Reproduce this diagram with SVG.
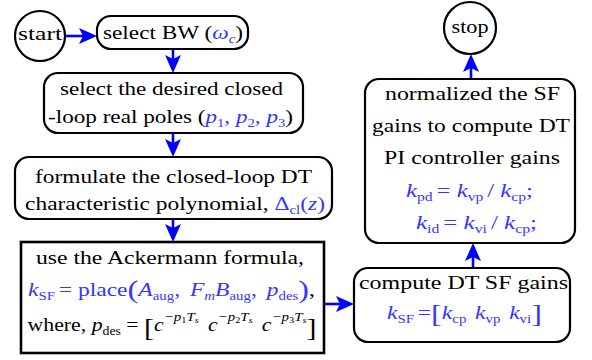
<svg xmlns="http://www.w3.org/2000/svg" width="592" height="360" viewBox="0 0 592 360">
<style>
text{font-family:'Liberation Serif','DejaVu Serif',serif;font-size:19px;fill:#000}
.m{fill:#3636ff}
.i{font-style:italic}
.s{font-size:12px}
.ss{font-size:13px}
.ss2{font-size:9px}
.br{font-size:26px;font-weight:100}
.box{fill:#fff;stroke:#000;stroke-width:2.2}
.edge{stroke:#0000ff;stroke-width:2.6;fill:none}
</style>
<defs>
<marker id="ah" markerUnits="userSpaceOnUse" markerWidth="18" markerHeight="16" viewBox="0 0 18 16" refX="14" refY="8" orient="auto">
<path d="M0,0 L18,8 L0,16 L4,8 z" fill="#0000ff"/>
</marker>
</defs>
<g id="connectors">
<path class="edge" d="M66,36 H93" marker-end="url(#ah)"/>
<path class="edge" d="M173,49 V69" marker-end="url(#ah)"/>
<path class="edge" d="M173,133 V153" marker-end="url(#ah)"/>
<path class="edge" d="M173,219 V238" marker-end="url(#ah)"/>
<path class="edge" d="M324,304 H350" marker-end="url(#ah)"/>
<path class="edge" d="M473,268 V247" marker-end="url(#ah)"/>
<path class="edge" d="M471,79 V58" marker-end="url(#ah)"/>
</g>
<g id="start">
<circle class="box" cx="40" cy="36" r="25"/>
<text x="40" y="40" text-anchor="middle" textLength="44" lengthAdjust="spacingAndGlyphs">start</text>
</g>
<g id="selectBW">
<rect class="box" x="97" y="16" width="151" height="33" rx="14"/>
<text x="173" y="39" text-anchor="middle" textLength="140" lengthAdjust="spacingAndGlyphs">select BW (<tspan class="m i">ω</tspan><tspan class="m i s" dy="4">c</tspan><tspan dy="-4">)</tspan></text>
</g>
<g id="selectPoles">
<rect class="box" x="44" y="73" width="259" height="60" rx="14"/>
<text x="171.5" y="95" text-anchor="middle" textLength="223" lengthAdjust="spacingAndGlyphs">select the desired closed</text>
<text x="170.5" y="123" text-anchor="middle" textLength="245" lengthAdjust="spacingAndGlyphs">-loop real poles (<tspan class="m i">p</tspan><tspan class="m s" dy="4">1</tspan><tspan class="m" dy="-4">, </tspan><tspan class="m i">p</tspan><tspan class="m s" dy="4">2</tspan><tspan class="m" dy="-4">, </tspan><tspan class="m i">p</tspan><tspan class="m s" dy="4">3</tspan><tspan dy="-4">)</tspan></text>
</g>
<g id="formulate">
<rect class="box" x="15" y="157" width="317" height="62" rx="14"/>
<text x="173.5" y="183" text-anchor="middle" textLength="277" lengthAdjust="spacingAndGlyphs">formulate the closed-loop DT</text>
<text x="175" y="210" text-anchor="middle" textLength="300" lengthAdjust="spacingAndGlyphs">characteristic polynomial, <tspan class="m">Δ</tspan><tspan class="m s" dy="4">cl</tspan><tspan class="m" dy="-4">(</tspan><tspan class="m i">z</tspan><tspan class="m">)</tspan></text>
</g>
<g id="ackermann">
<rect x="21" y="242" width="303" height="111" fill="#fff" stroke="#000" stroke-width="2.6"/>
<text x="170" y="264" text-anchor="middle" textLength="268" lengthAdjust="spacingAndGlyphs">use the Ackermann formula,</text>
<text x="171.5" y="296" text-anchor="middle" textLength="287" lengthAdjust="spacingAndGlyphs"><tspan class="m i">k</tspan><tspan class="m s" dy="4">SF</tspan><tspan class="m" dy="-4" dx="3">= place</tspan><tspan class="m br" dy="2">(</tspan><tspan class="m i" dy="-2">A</tspan><tspan class="m s" dy="4">aug</tspan><tspan class="m" dy="-4">,</tspan><tspan class="m i" dx="8">F</tspan><tspan class="m i s" dy="4">m</tspan><tspan class="m i" dy="-4">B</tspan><tspan class="m s" dy="4">aug</tspan><tspan class="m" dy="-4">,</tspan><tspan class="m i" dx="8">p</tspan><tspan class="m s" dy="4">des</tspan><tspan class="m br" dy="-2">)</tspan><tspan dy="-2">,</tspan></text>
<text x="172" y="331" text-anchor="middle" textLength="289" lengthAdjust="spacingAndGlyphs">where, <tspan class="i">p</tspan><tspan class="s" dy="4">des</tspan><tspan dy="-4"> = </tspan><tspan class="br" dy="5">[</tspan><tspan class="i" dy="-5">c</tspan><tspan class="i ss" dy="-10">−p</tspan><tspan class="ss2" dy="2">1</tspan><tspan class="i ss" dy="-2">T</tspan><tspan class="i ss2" dy="2">s</tspan><tspan class="i" dy="8" dx="8">c</tspan><tspan class="i ss" dy="-10">−p</tspan><tspan class="ss2" dy="2">2</tspan><tspan class="i ss" dy="-2">T</tspan><tspan class="i ss2" dy="2">s</tspan><tspan class="i" dy="8" dx="8">c</tspan><tspan class="i ss" dy="-10">−p</tspan><tspan class="ss2" dy="2">3</tspan><tspan class="i ss" dy="-2">T</tspan><tspan class="i ss2" dy="2">s</tspan><tspan class="br" dy="13">]</tspan></text>
</g>
<g id="computeSF">
<rect class="box" x="354" y="268" width="216" height="74" rx="14"/>
<text x="463.5" y="289" text-anchor="middle" textLength="209" lengthAdjust="spacingAndGlyphs">compute DT SF gains</text>
<text x="464.5" y="319" text-anchor="middle" textLength="155" lengthAdjust="spacingAndGlyphs"><tspan class="m i">k</tspan><tspan class="m s" dy="4">SF</tspan><tspan class="m" dy="-4" dx="3">=</tspan><tspan class="m br" dy="3">[</tspan><tspan class="m i" dy="-3">k</tspan><tspan class="m s" dy="4">cp</tspan><tspan class="m i" dy="-4" dx="7">k</tspan><tspan class="m s" dy="4">vp</tspan><tspan class="m i" dy="-4" dx="7">k</tspan><tspan class="m s" dy="4">vi</tspan><tspan class="m br" dy="-1">]</tspan></text>
</g>
<g id="normalize">
<rect class="box" x="365" y="79" width="210" height="164" rx="14"/>
<text x="472.5" y="100" text-anchor="middle" textLength="175" lengthAdjust="spacingAndGlyphs">normalized the SF</text>
<text x="471" y="132" text-anchor="middle" textLength="198" lengthAdjust="spacingAndGlyphs">gains to compute DT</text>
<text x="472" y="164" text-anchor="middle" textLength="176" lengthAdjust="spacingAndGlyphs">PI controller gains</text>
<text x="469.5" y="197" text-anchor="middle" textLength="127" lengthAdjust="spacingAndGlyphs"><tspan class="m i">k</tspan><tspan class="m s" dy="4">pd</tspan><tspan class="m" dy="-4" dx="3">= </tspan><tspan class="m i">k</tspan><tspan class="m s" dy="4">vp</tspan><tspan class="m" dy="-4" dx="3">/ </tspan><tspan class="m i">k</tspan><tspan class="m s" dy="4">cp</tspan><tspan class="m" dy="-4">;</tspan></text>
<text x="476.5" y="229" text-anchor="middle" textLength="121" lengthAdjust="spacingAndGlyphs"><tspan class="m i">k</tspan><tspan class="m s" dy="4">id</tspan><tspan class="m" dy="-4" dx="3">= </tspan><tspan class="m i">k</tspan><tspan class="m s" dy="4">vi</tspan><tspan class="m" dy="-4" dx="3">/ </tspan><tspan class="m i">k</tspan><tspan class="m s" dy="4">cp</tspan><tspan class="m" dy="-4">;</tspan></text>
</g>
<g id="stop">
<circle class="box" cx="470" cy="28" r="26"/>
<text x="470" y="33" text-anchor="middle" textLength="37" lengthAdjust="spacingAndGlyphs">stop</text>
</g>
</svg>
